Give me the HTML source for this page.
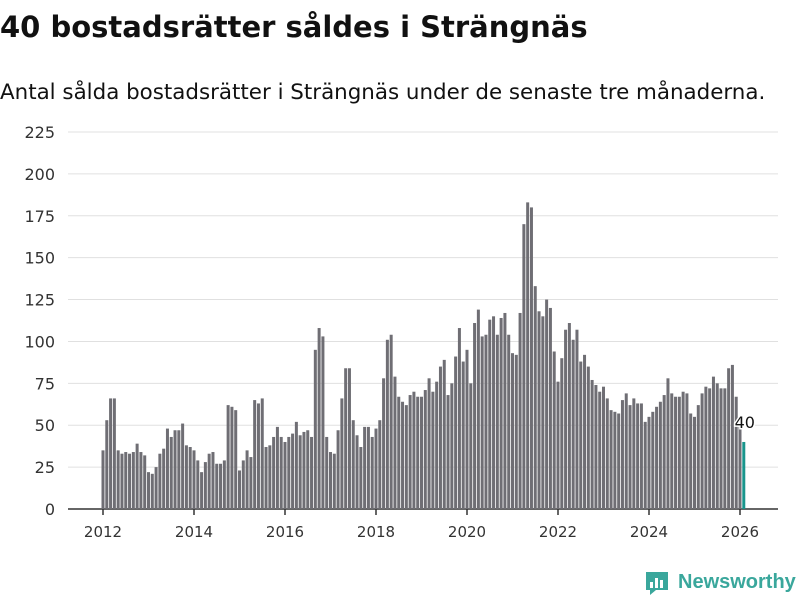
<!DOCTYPE html>
<html><head><meta charset="utf-8"><style>
body{margin:0;width:800px;height:600px;background:#fff;font-family:"DejaVu Sans",sans-serif;overflow:hidden;position:relative}
h1{position:absolute;left:0;top:10px;margin:0;font-size:29px;font-weight:bold;color:#111;white-space:nowrap}
p{position:absolute;left:0;top:80px;margin:0;font-size:21.4px;color:#111;white-space:nowrap}
</style></head><body>
<h1>40 bostadsrätter såldes i Strängnäs</h1>
<p>Antal sålda bostadsrätter i Strängnäs under de senaste tre månaderna.</p>
<svg id="c" width="800" height="600" style="position:absolute;left:0;top:0"></svg>
<script>
const values=[35,53,66,66,35,33,34,33,34,39,34,32,
22,21,25,33,36,48,43,47,47,51,38,37,
35,29,22,28,33,34,27,27,29,62,61,59,
23,29,35,31,65,63,66,37,38,43,49,43,
40,43,45,52,44,46,47,43,95,108,103,43,
34,33,47,66,84,84,53,44,37,49,49,43,
48,53,78,101,104,79,67,64,62,68,70,67,
67,71,78,70,76,85,89,68,75,91,108,88,
95,75,111,119,103,104,113,115,104,114,117,104,
93,92,117,170,183,180,133,118,115,125,120,94,
76,90,107,111,101,107,88,92,85,77,74,70,
73,66,59,58,57,65,69,62,66,63,63,52,
55,58,61,64,68,78,69,67,67,70,69,57,
55,62,69,73,72,79,75,72,72,84,86,67,
49,40];
const yTicks=[0,25,50,75,100,125,150,175,200,225];
const xTicks=[2012,2014,2016,2018,2020,2022,2024,2026];
const startYear=2012;
const svg=document.getElementById('c');const NS='http://www.w3.org/2000/svg';
const y=v=>509-v*(377/225);
const x=m=>103+m*(637/168);
function mk(t,a){const e=document.createElementNS(NS,t);for(const k in a)e.setAttribute(k,a[k]);svg.appendChild(e);return e;}
yTicks.forEach(t=>{
 const g=mk('line',{x1:68,x2:778,y1:y(t),y2:y(t),stroke:t?'#e0e0e0':'#333','stroke-width':t?1:1.5});
 
 
 const l=mk('text',{x:55,y:y(t)+6,'text-anchor':'end','font-size':16,fill:'#333','font-family':'DejaVu Sans'});l.textContent=t;
 
 
});
values.forEach((v,i)=>{
 const last=i===values.length-1;
 const r=mk('rect',{x:x(i)-1.5,y:y(v),width:3,height:509-y(v),fill:last?'#19958c':'#6f6e74'});
 
 
});
const li=values.length-1;
const lab=mk('text',{x:x(li)+1,y:y(values[li])-14,'text-anchor':'middle','font-size':16,fill:'#111',stroke:'#fff','stroke-width':3,'paint-order':'stroke','font-family':'DejaVu Sans'});lab.textContent=values[li];


xTicks.forEach(t=>{
 const m=(t-startYear)*12;
 mk('line',{x1:x(m),x2:x(m),y1:509,y2:515,stroke:'#333','stroke-width':1.5});
 const l=mk('text',{x:x(m),y:537,'text-anchor':'middle','font-size':15,fill:'#333','font-family':'DejaVu Sans'});l.textContent=t;
 
 
});
</script>
<div style="position:absolute;left:644px;top:568px;display:flex;align-items:center">
<svg width="26" height="28"><path d="M2 4 h22 v18 h-12 l-6 5 v-5 h-4z" fill="#3aa79c"/><rect x="6" y="14" width="3" height="6" fill="#fff"/><rect x="11" y="10" width="3" height="10" fill="#fff"/><rect x="16" y="12" width="3" height="8" fill="#fff"/></svg>
<span style="font-family:'Liberation Sans',sans-serif;font-size:20px;font-weight:bold;color:#3aa79c;margin-left:8px">Newsworthy</span></div>
</body></html>
